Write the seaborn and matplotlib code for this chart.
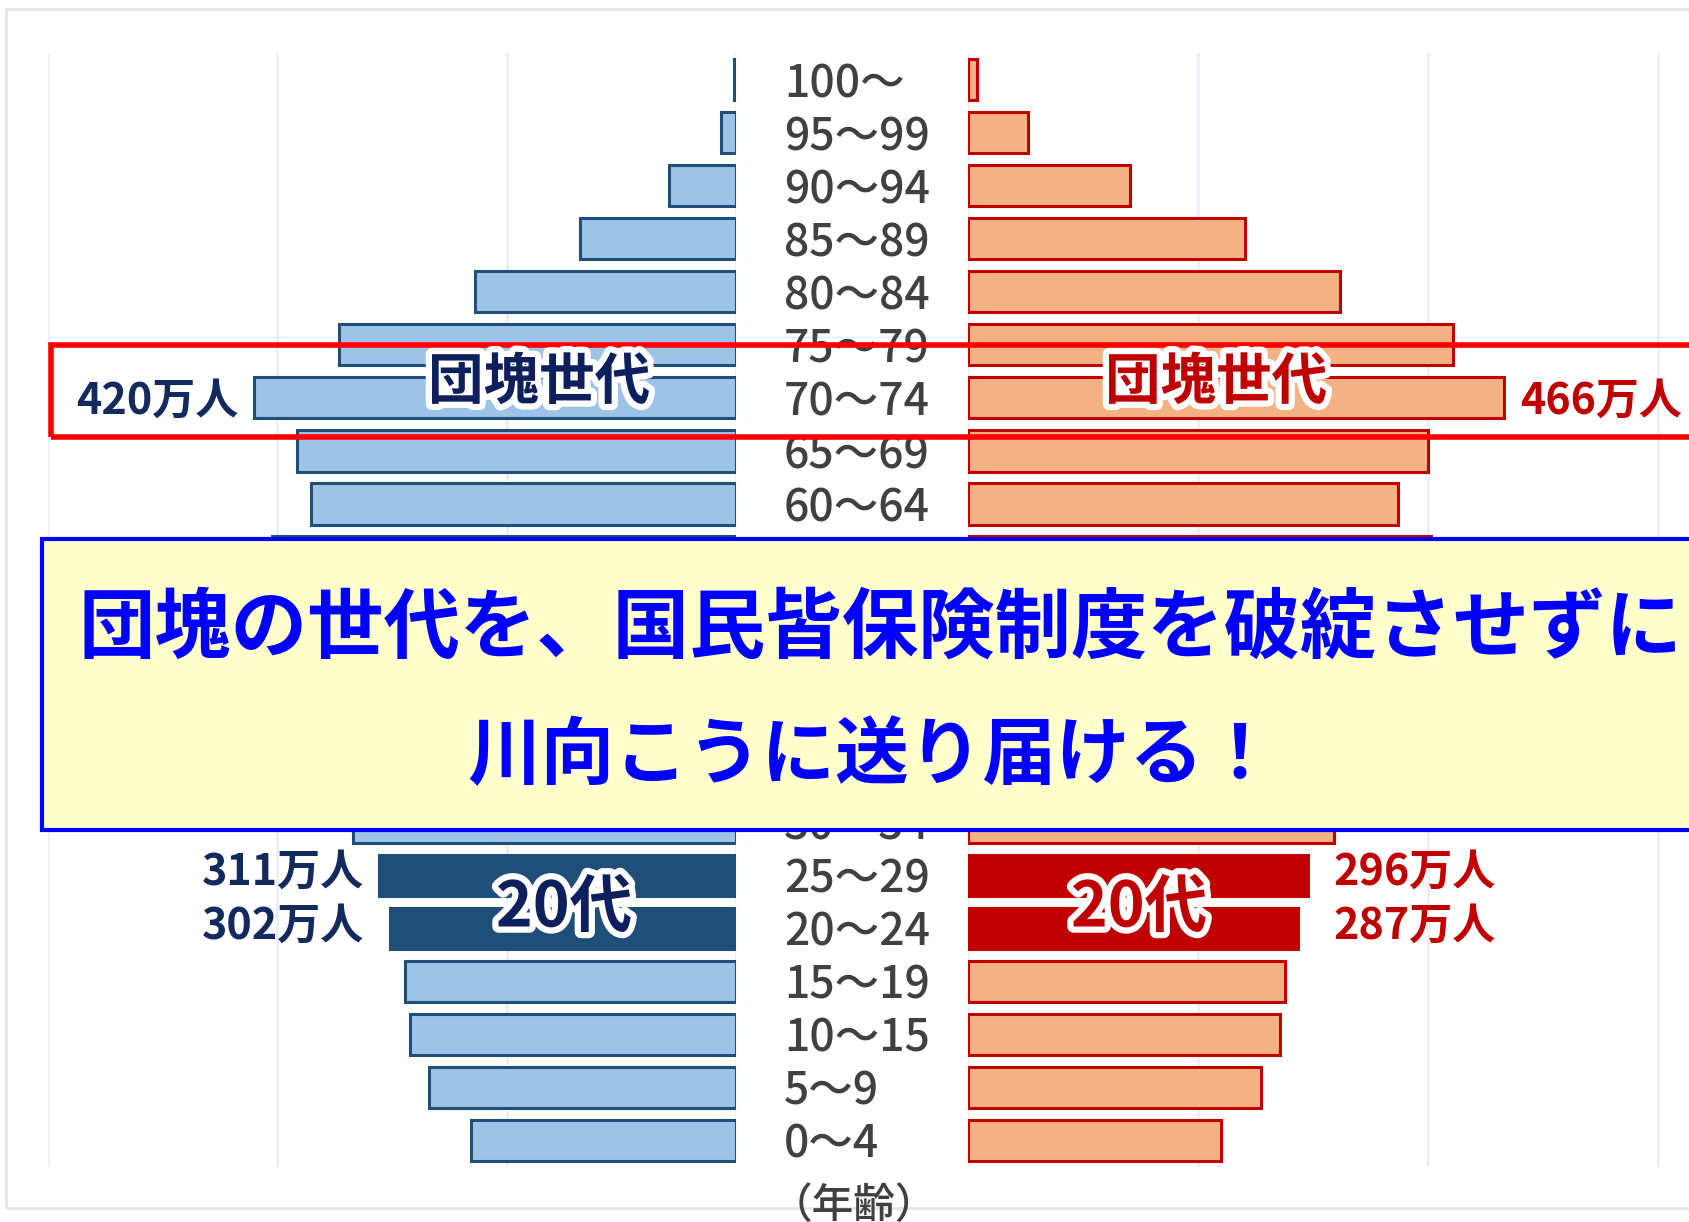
import matplotlib
matplotlib.use("Agg")
import matplotlib.pyplot as plt
import matplotlib.transforms as mtransforms
import matplotlib.patheffects as pe
from matplotlib.patches import Rectangle
import pandas as pd
import seaborn as sns

# 年齢階級（上から）
ages = ["100～", "95～99", "90～94", "85～89", "80～84", "75～79", "70～74",
        "65～69", "60～64", "55～59", "50～54", "45～49", "40～44", "35～39",
        "30～34", "25～29", "20～24", "15～19", "10～15", "5～9", "0～4"]
# 人口（万人）  ※55～35歳は図では隠れているので推定値
male = [2, 13, 58, 136, 228, 346, 420, 383, 371, 405, 430, 490, 420, 370,
        334, 311, 302, 289, 284, 268, 231]
female = [8, 52, 141, 241, 324, 422, 466, 400, 374, 403, 425, 480, 410, 360,
          318, 296, 287, 276, 271, 255, 220]
highlight = ["25～29", "20～24"]
hidden = ["55～59", "50～54", "45～49", "40～44", "35～39"]  # 囲みの下に隠れる階級

title1 = "団塊の世代を、国民皆保険制度を破綻させずに"
title2 = "川向こうに送り届ける！"

sns.set_theme(style="white")
plt.rcParams['font.family'] = ['Noto Sans CJK JP', 'DejaVu Sans']

W, H = 1690, 1222
fig = plt.figure(figsize=(W / 100, H / 100), dpi=100)


def fx(px):
    return px / W


def fy(py):
    return 1 - py / H


top, bot = 53, 1167
axL = fig.add_axes([fx(48), fy(bot), fx(736 - 48), (bot - top) / H])
axR = fig.add_axes([fx(968), fy(bot), fx(W - 968), (bot - top) / H])

df = pd.DataFrame({"age": ages, "male": male, "female": female})

male_colors = ["#1F4E79" if a in highlight else "#9DC3E6" for a in ages]
female_colors = ["#C00000" if a in highlight else "#F4B183" for a in ages]

sns.barplot(data=df, x="male", y="age", hue="age", palette=male_colors,
            legend=False, ax=axL, width=0.78, edgecolor="#1F4E79",
            linewidth=2.2, saturation=1)
sns.barplot(data=df, x="female", y="age", hue="age", palette=female_colors,
            legend=False, ax=axR, width=0.78, edgecolor="#C00000",
            linewidth=2.2, saturation=1)

axL.set_xlim(600, 0)
axR.set_xlim(0, 628)
for ax in (axL, axR):
    ax.set_ylim(len(ages) - 0.5, -0.5)
    ax.set_xticks([0, 200, 400, 600])
    ax.grid(axis="x", color="#EBEFF6", linewidth=2)
    ax.set_axisbelow(True)
    ax.tick_params(left=False, bottom=False, labelleft=False, labelbottom=False)
    ax.set_xlabel("")
    ax.set_ylabel("")
    ax.set_facecolor("none")
    sns.despine(ax=ax, left=True, bottom=True)

# 年齢ラベル
trans = mtransforms.blended_transform_factory(fig.transFigure, axR.transData)
for i, a in enumerate(ages):
    if a in hidden:
        continue
    axR.annotate(a, xy=(fx(784), i), xycoords=trans, xytext=(0, -5),
                 textcoords="offset pixels", ha="left", va="center",
                 fontsize=32, weight="medium", color="#404040",
                 annotation_clip=False)

# 値ラベル
i70 = ages.index("70～74")
axL.annotate(f"{male[i70]}万人", xy=(male[i70], i70), xytext=(-16, -3),
             textcoords="offset pixels", ha="right", va="center",
             fontsize=31, weight="bold", color="#132A5E", annotation_clip=False)
axR.annotate(f"{female[i70]}万人", xy=(female[i70], i70), xytext=(16, -3),
             textcoords="offset pixels", ha="left", va="center",
             fontsize=31, weight="bold", color="#C00000", annotation_clip=False)

# 20代のラベルは端をそろえる
idx20 = [ages.index(a) for a in highlight]
mx_m = max(male[i] for i in idx20)
mx_f = max(female[i] for i in idx20)
for i, dy in zip(idx20, [4, 3]):
    axL.annotate(f"{male[i]}万人", xy=(mx_m, i), xytext=(-15, dy),
                 textcoords="offset pixels", ha="right", va="center",
                 fontsize=31, weight="bold", color="#132A5E",
                 annotation_clip=False)
    axR.annotate(f"{female[i]}万人", xy=(mx_f, i), xytext=(25, dy),
                 textcoords="offset pixels", ha="left", va="center",
                 fontsize=31, weight="bold", color="#C00000",
                 annotation_clip=False)

# 外枠
fig.add_artist(Rectangle((fx(6), fy(1208)), fx(W), (1208 - 9) / H,
                         transform=fig.transFigure, fill=False,
                         edgecolor="#E3E6EC", linewidth=2, zorder=-1))

glow = [pe.withStroke(linewidth=9, foreground="white")]
fig.text(fx(539), fy(383), "団塊世代", ha="center", va="center", fontsize=40,
         weight="bold", color="#0D1F5C", path_effects=glow, zorder=7)
fig.text(fx(1216), fy(383), "団塊世代", ha="center", va="center", fontsize=40,
         weight="bold", color="#C00000", path_effects=glow, zorder=7)
fig.text(fx(564), fy(908), "20代", ha="center", va="center", fontsize=45,
         weight="bold", color="#0D1F5C", path_effects=glow, zorder=7)
fig.text(fx(1139), fy(908), "20代", ha="center", va="center", fontsize=45,
         weight="bold", color="#C00000", path_effects=glow, zorder=7)

# 赤枠
fig.add_artist(Rectangle((fx(51), fy(437)), fx(W), (437 - 345) / H,
                         transform=fig.transFigure, fill=False,
                         edgecolor="#FF0000", linewidth=4, zorder=6))

# 黄色い囲み
fig.add_artist(Rectangle((fx(42), fy(830)), fx(W), (830 - 539) / H,
                         transform=fig.transFigure, facecolor="#FFFFCC",
                         edgecolor="#0000FF", linewidth=3, zorder=8))
fig.text(fx(78), fy(629), title1, ha="left", va="center", fontsize=55,
         weight="bold", color="#0000FF", zorder=9)
fig.text(fx(872), fy(757), title2, ha="center", va="center", fontsize=53,
         weight="bold", color="#0000FF", zorder=9)

fig.text(fx(854), fy(1205), "（年齢）", ha="center", va="center", fontsize=30,
         weight="medium", color="#404040")

fig.savefig("out.png", dpi=100)
